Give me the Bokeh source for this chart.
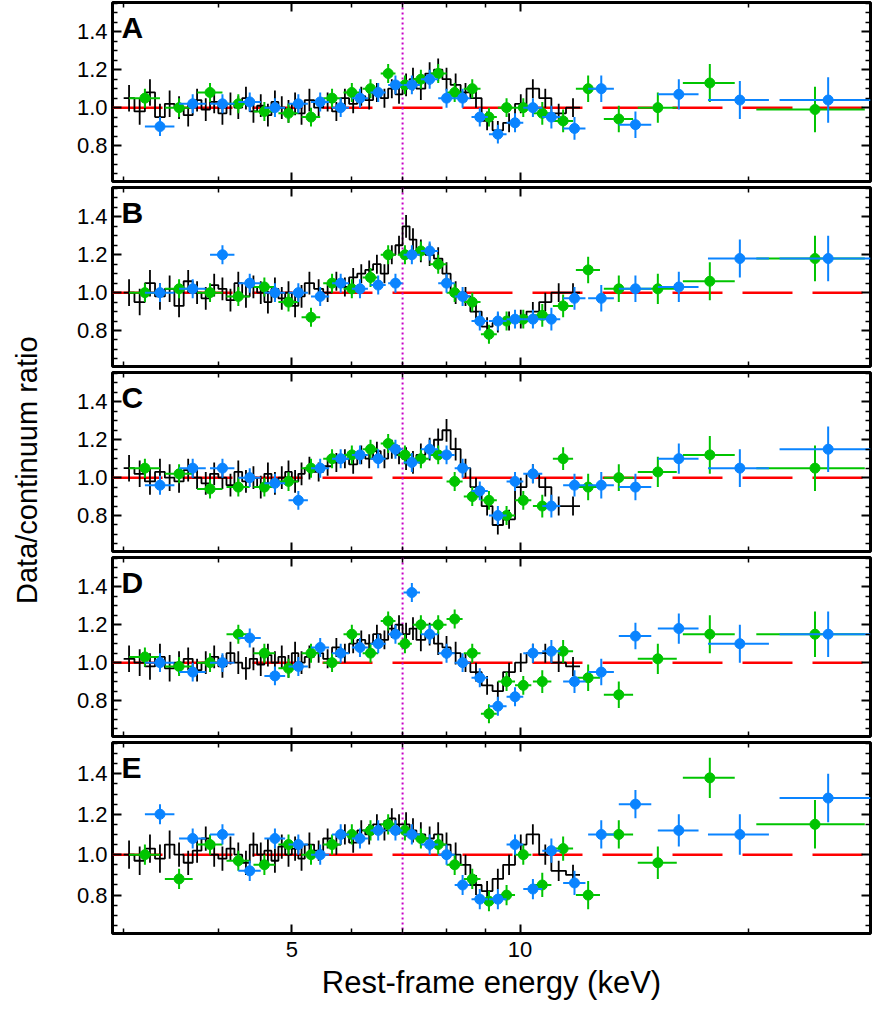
import numpy as np
from bokeh.plotting import figure
from bokeh.layouts import column, row
from bokeh.models import Span, Label, FixedTicker, LinearAxis, LogAxis, NumeralTickFormatter, Div
from bokeh.embed import file_html
from bokeh.resources import INLINE

# black histogram: common bin edges (keV), values per panel
edges = [3.0, 3.1, 3.2, 3.3, 3.4, 3.5, 3.6, 3.7, 3.8, 3.9, 4.0, 4.1, 4.2, 4.3, 4.4, 4.5,
         4.6, 4.7, 4.8, 4.9, 5.0, 5.1, 5.2, 5.35, 5.5, 5.65, 5.8, 5.95, 6.1, 6.25, 6.4,
         6.55, 6.7, 6.85, 7.0, 7.15, 7.3, 7.5, 7.7, 7.9, 8.1, 8.35, 8.6, 8.9, 9.2, 9.5,
         9.85, 10.2, 10.6, 11.0, 11.5, 12.0]
black_err = [0.07, 0.07, 0.07, 0.07, 0.07, 0.06, 0.06, 0.06, 0.06, 0.06, 0.06, 0.06, 0.06,
             0.06, 0.06, 0.06, 0.06, 0.06, 0.06, 0.06, 0.06, 0.06, 0.06, 0.05, 0.05, 0.05,
             0.05, 0.05, 0.05, 0.05, 0.05, 0.05, 0.05, 0.05, 0.06, 0.06, 0.06, 0.06, 0.06,
             0.06, 0.06, 0.05, 0.05, 0.05, 0.05, 0.05, 0.05, 0.05, 0.05, 0.05, 0.05]
black = {
    "A": [1.05, 0.98, 1.08, 0.95, 1.02, 1.0, 0.96, 1.04, 0.99, 1.03,
          0.97, 1.02, 1.0, 1.05, 0.98, 1.01, 0.96, 1.03, 1.0, 0.98,
          1.02, 0.97, 1.04, 1.0, 1.03, 0.98, 1.05, 1.02, 1.06, 1.04,
          1.08, 1.05, 1.1, 1.07, 1.12, 1.15, 1.1, 1.18, 1.2, 1.15,
          1.12, 1.08, 1.05, 0.93, 0.88, 0.92, 1.02, 1.1, 1.05, 0.97, 1.0],
    "B": [1.0, 0.95, 1.05, 0.98, 1.02, 0.93, 1.06, 1.0, 0.97, 1.04,
          1.02, 0.96, 1.05, 0.98, 1.03, 1.0, 0.95, 1.02, 0.97, 1.0,
          0.93, 0.98, 1.05, 1.02, 1.0, 1.06, 1.03, 1.08, 1.1, 1.12,
          1.15, 1.1, 1.2, 1.25, 1.35, 1.28, 1.22, 1.2, 1.18, 1.1,
          1.0, 0.98, 0.9, 0.82, 0.84, 0.85, 0.86, 0.9, 0.95, 1.0, 1.0],
    "C": [1.05, 1.02, 0.98, 1.03, 1.0, 0.98, 1.04, 1.0, 0.97, 1.02,
          1.0, 0.96, 1.03, 0.98, 1.0, 0.95, 1.02, 0.97, 1.0, 1.03,
          0.98, 1.02, 1.05, 1.03, 1.06, 1.08, 1.1, 1.07, 1.12, 1.1,
          1.14, 1.1, 1.15, 1.12, 1.1, 1.08, 1.12, 1.15, 1.2, 1.25,
          1.15, 1.05, 0.95, 0.85, 0.75, 0.78, 0.95, 1.02, 0.95, 0.85, 0.85],
    "D": [1.02, 1.0, 0.98, 1.03, 0.97, 1.0, 1.02, 0.96, 1.0, 1.03,
          0.98, 1.05, 1.0, 0.97, 1.02, 0.99, 1.04, 1.0, 1.03, 0.98,
          1.05, 1.0, 1.03, 1.05, 1.02, 1.08, 1.05, 1.1, 1.12, 1.1,
          1.15, 1.12, 1.18, 1.2, 1.15, 1.18, 1.12, 1.15, 1.1, 1.08,
          1.05, 1.0, 0.95, 0.88, 0.85, 0.95, 1.0, 1.05, 1.05, 1.0, 0.98],
    "E": [1.0, 0.97, 1.03, 0.98, 1.05, 1.0, 0.96, 1.02, 1.08, 1.0,
          0.98, 1.03, 1.0, 0.96, 1.05, 1.0, 1.02, 0.97, 1.04, 1.0,
          1.03, 0.98, 1.05, 1.02, 1.08, 1.05, 1.1, 1.06, 1.12, 1.1,
          1.15, 1.12, 1.18, 1.15, 1.15, 1.12, 1.1, 1.08, 1.1, 1.05,
          1.0, 0.95, 0.85, 0.82, 0.88, 0.95, 1.05, 1.1, 1.0, 0.92, 0.9],
}

# green and blue points
green_x = [3.2, 3.55, 3.9, 4.25, 4.6, 4.95, 5.3, 5.65, 6.0, 6.35, 6.7, 7.05, 7.4, 7.8,
           8.2, 8.65, 9.1, 9.6, 10.1, 10.7, 11.4, 12.3, 13.5, 15.2, 17.8, 24.5]
green_xerr = [0.15, 0.15, 0.15, 0.15, 0.15, 0.15, 0.15, 0.15, 0.15, 0.15, 0.15, 0.15, 0.18,
              0.2, 0.2, 0.22, 0.22, 0.25, 0.25, 0.3, 0.35, 0.45, 0.6, 0.9, 1.4, 4.0]
blue_x = [3.35, 3.7, 4.05, 4.4, 4.75, 5.1, 5.45, 5.8, 6.15, 6.5, 6.85, 7.2, 7.6, 8.0,
          8.4, 8.85, 9.35, 9.85, 10.4, 11.0, 11.8, 12.8, 14.2, 16.2, 19.5, 25.5]
blue_xerr = [0.15, 0.15, 0.15, 0.15, 0.15, 0.15, 0.15, 0.15, 0.15, 0.15, 0.15, 0.18, 0.2,
             0.2, 0.2, 0.22, 0.25, 0.25, 0.3, 0.3, 0.4, 0.5, 0.7, 1.0, 1.8, 3.5]
pt_yerr = [0.05, 0.05, 0.05, 0.05, 0.05, 0.05, 0.05, 0.05, 0.05, 0.05, 0.05, 0.05, 0.05,
           0.05, 0.05, 0.05, 0.05, 0.05, 0.05, 0.06, 0.06, 0.07, 0.07, 0.08, 0.1, 0.12]
green = {
    "A": [1.05, 1.0, 1.08, 1.02, 0.98, 0.97, 0.95, 1.05, 1.08, 1.1, 1.18, 1.12, 1.15,
          1.18, 1.08, 1.1, 0.95, 1.0, 1.0, 0.97, 0.93, 1.1, 0.94, 1.0, 1.13, 0.99],
    "B": [1.0, 1.02, 1.0, 0.98, 1.03, 0.95, 0.87, 1.05, 1.02, 1.08, 1.2, 1.2, 1.22,
          1.15, 1.0, 0.95, 0.78, 0.85, 0.86, 0.88, 0.93, 1.12, 1.02, 1.02, 1.06, 1.18],
    "C": [1.05, 1.02, 0.94, 0.95, 0.95, 0.98, 1.05, 1.1, 1.12, 1.15, 1.18, 1.12, 1.1,
          1.12, 0.98, 0.9, 0.88, 0.8, 0.88, 0.85, 1.1, 0.95, 1.0, 1.03, 1.12, 1.05],
    "D": [1.03, 0.98, 1.0, 1.15, 1.05, 0.97, 1.05, 1.0, 1.15, 1.05, 1.22, 1.1, 1.2,
          1.2, 1.23, 1.05, 0.73, 0.9, 0.88, 0.9, 1.06, 0.92, 0.83, 1.02, 1.15, 1.15],
    "E": [1.0, 0.88, 1.05, 0.97, 0.95, 1.05, 1.0, 1.05, 1.1, 1.12, 1.15, 1.12, 1.08,
          1.05, 0.95, 0.88, 0.77, 0.8, 1.0, 0.85, 1.03, 0.8, 1.1, 0.96, 1.38, 1.15],
}
blue = {
    "A": [0.9, 1.02, 1.02, 1.03, 1.0, 1.02, 1.03, 1.0, 1.05, 1.08, 1.12, 1.12, 1.15,
          1.05, 1.05, 0.95, 0.86, 0.92, 1.0, 0.95, 0.89, 1.1, 0.91, 1.07, 1.04, 1.04],
    "B": [1.0, 1.02, 1.2, 1.05, 1.0, 1.0, 0.98, 1.05, 1.02, 1.04, 1.05, 1.2, 1.22,
          1.05, 0.98, 0.85, 0.85, 0.86, 0.86, 0.86, 0.97, 0.97, 1.02, 1.03, 1.18, 1.18],
    "C": [0.96, 1.05, 1.05, 1.0, 0.97, 0.88, 1.05, 1.1, 1.12, 1.1, 1.15, 1.08, 1.15,
          1.12, 1.05, 0.93, 0.8, 0.98, 1.02, 0.85, 0.96, 0.96, 0.95, 1.1, 1.05, 1.15],
    "D": [1.0, 0.95, 1.0, 1.13, 0.93, 0.98, 1.08, 1.05, 1.08, 1.1, 1.15, 1.37, 1.15,
          1.05, 1.0, 0.92, 0.77, 0.82, 1.05, 1.06, 0.9, 0.95, 1.14, 1.18, 1.1, 1.15],
    "E": [1.2, 1.08, 1.1, 0.92, 1.08, 1.05, 1.0, 1.1, 1.08, 1.12, 1.12, 1.1, 1.05,
          1.0, 0.85, 0.78, 0.78, 1.05, 0.83, 1.02, 0.86, 1.1, 1.25, 1.12, 1.1, 1.28],
}
panels = ["A", "B", "C", "D", "E"]
line_energy = 7.0

GREEN = "#00c400"
BLUE = "#0a84ff"
FONT = "Liberation Sans"
Y_RANGE = (0.61, 1.555)

edges_a = np.array(edges)
centers = np.sqrt(edges_a[:-1] * edges_a[1:])

x_ticker = FixedTicker(ticks=[5, 10], minor_ticks=[3, 4, 6, 7, 8, 9, 20])
y_ticker = FixedTicker(ticks=[0.8, 1.0, 1.2, 1.4],
                       minor_ticks=[0.65, 0.7, 0.75, 0.85, 0.9, 0.95, 1.05, 1.1, 1.15,
                                    1.25, 1.3, 1.35, 1.45, 1.5, 1.55])


def style_axis(ax, show_labels):
    ax.major_tick_in = 9
    ax.major_tick_out = 0
    ax.minor_tick_in = 5
    ax.minor_tick_out = 0
    ax.axis_line_color = None
    ax.major_tick_line_width = 2
    ax.minor_tick_line_width = 1.5
    ax.major_label_text_font = FONT
    ax.major_label_text_font_size = "22px"
    ax.major_label_text_color = "black"
    if not show_labels:
        ax.major_label_overrides = {t: "" for t in ax.ticker.ticks}


figs = []
for i, name in enumerate(panels):
    last = i == len(panels) - 1
    p = figure(width=817, height=262 if last else 185, x_axis_type="log",
               x_range=(2.9, 29.0), y_range=Y_RANGE,
               output_backend="svg", toolbar_location=None,
               min_border_left=57, min_border_right=2, min_border_top=2,
               min_border_bottom=4)
    p.xgrid.grid_line_color = None
    p.ygrid.grid_line_color = None
    p.outline_line_color = "black"
    p.outline_line_width = 3

    p.add_layout(Span(location=1.0, dimension="width", line_color="red",
                      line_width=2.5, line_dash="50 20", level="underlay"))
    p.add_layout(Span(location=line_energy, dimension="height", line_color="#c800c8",
                      line_width=2, line_dash="2 3", level="underlay"))

    # black histogram
    vals = black[name]
    p.step(x=list(edges), y=vals + [vals[-1]], mode="after", line_color="black", line_width=1.8)
    lo = [v - e for v, e in zip(vals, black_err)]
    hi = [v + e for v, e in zip(vals, black_err)]
    p.segment(x0=centers, y0=lo, x1=centers, y1=hi, line_color="black", line_width=1.8)

    for xs, xe, ys, col in [(green_x, green_xerr, green[name], GREEN),
                            (blue_x, blue_xerr, blue[name], BLUE)]:
        p.segment(x0=[x - e for x, e in zip(xs, xe)], y0=ys,
                  x1=[x + e for x, e in zip(xs, xe)], y1=ys, line_color=col, line_width=2)
        p.segment(x0=xs, y0=[y - e for y, e in zip(ys, pt_yerr)],
                  x1=xs, y1=[y + e for y, e in zip(ys, pt_yerr)], line_color=col, line_width=2)
        p.scatter(xs, ys, size=10, fill_color=col, line_color=col)

    p.add_layout(Label(x=2.98, y=Y_RANGE[1], y_offset=-8, text=name,
                       text_font=FONT, text_font_style="bold", text_font_size="30px",
                       text_color="black", text_baseline="top"))

    bottom = p.below[0]
    left = p.left[0]
    bottom.ticker = x_ticker
    left.ticker = y_ticker
    style_axis(bottom, last)
    style_axis(left, True)
    left.formatter = NumeralTickFormatter(format="0.0")

    right = LinearAxis(ticker=y_ticker)
    style_axis(right, False)
    p.add_layout(right, "right")
    top = LogAxis(ticker=x_ticker)
    style_axis(top, False)
    p.add_layout(top, "above")

    if last:
        bottom.axis_label = "Rest-frame energy (keV)"
        bottom.axis_label_text_font = FONT
        bottom.axis_label_text_font_style = "normal"
        bottom.axis_label_text_font_size = "31px"
        bottom.axis_label_text_color = "black"
        bottom.major_label_standoff = 8
    figs.append(p)

ylab = Div(text="Data/continuum ratio", width=45, height=930,
           styles={"writing-mode": "vertical-rl", "transform": "rotate(180deg)",
                   "font-family": FONT, "font-size": "29px", "color": "black",
                   "text-align": "center", "line-height": "45px"})

layout = row(ylab, column(*figs, spacing=0), spacing=0)
open("out.html", "w").write(file_html(layout, INLINE))
